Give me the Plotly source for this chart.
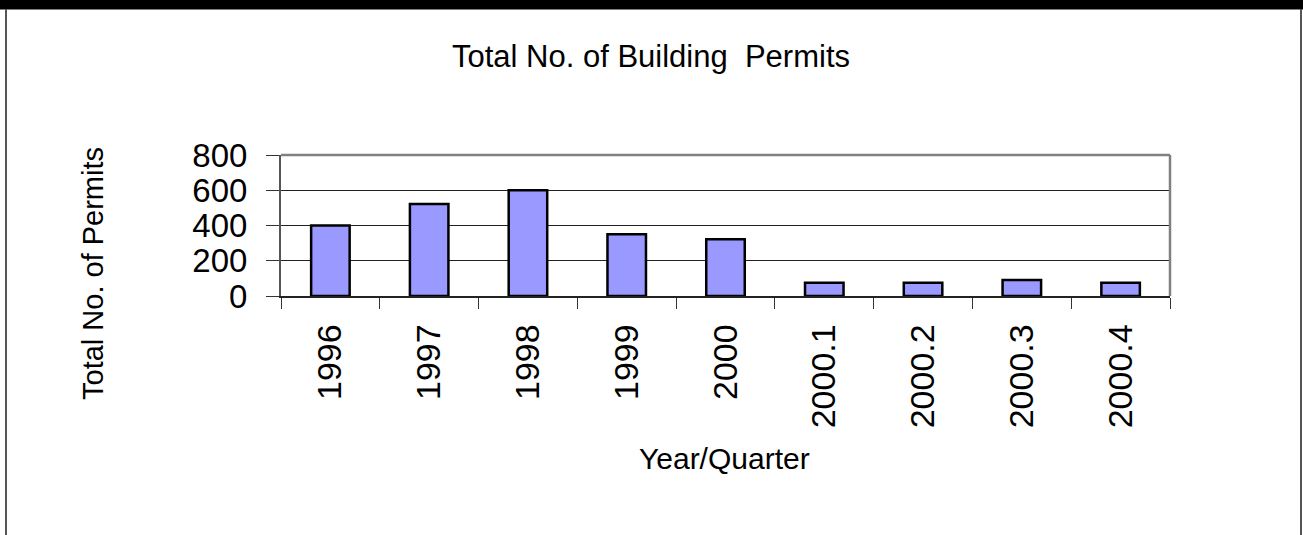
import plotly.graph_objects as go

categories = ["1996", "1997", "1998", "1999", "2000", "2000.1", "2000.2", "2000.3", "2000.4"]
permits = [400, 522, 600, 350, 322, 75, 75, 91, 75]
y_ticks = [0, 200, 400, 600, 800]

chart_title = "Total No. of Building  Permits"
x_title = "Year/Quarter"
y_title = "Total No. of Permits"

FONT = "Liberation Sans, Arial, sans-serif"
W, H = 1303, 535
L, R, T, B = 281, 1170, 155, 296  # plot area in pixels


def px(x):
    return (x - L) / (R - L)


def py(y):
    return (B - y) / (B - T)


fig = go.Figure(
    go.Bar(
        x=categories,
        y=permits,
        width=0.39,
        marker=dict(color="#9999FF", line=dict(color="black", width=2.5)),
    )
)

fig.update_layout(
    width=W,
    height=H,
    margin=dict(l=L, r=W - R, t=T, b=H - B, pad=0),
    paper_bgcolor="white",
    plot_bgcolor="white",
    showlegend=False,
    font=dict(family=FONT, color="black"),
)

fig.update_xaxes(
    type="category",
    tickson="boundaries",
    ticks="outside",
    ticklen=11,
    tickwidth=1,
    tickcolor="#333333",
    tickangle=-90,
    tickfont=dict(size=34, family=FONT, color="black"),
    ticklabelstandoff=13,
    showline=True,
    linecolor="#222222",
    linewidth=1.5,
    showgrid=False,
    mirror=False,
)

fig.update_yaxes(
    range=[0, 800],
    tickvals=y_ticks,
    ticks="outside",
    ticklen=13,
    tickwidth=1,
    tickcolor="#333333",
    tickfont=dict(size=33, family=FONT, color="black"),
    ticklabelstandoff=12,
    showline=True,
    linecolor="#555555",
    linewidth=2,
    showgrid=True,
    gridcolor="#222222",
    gridwidth=1,
    zeroline=False,
)

shapes = [
    # top and right plot border
    dict(type="line", xref="paper", yref="paper", x0=0, x1=1, y0=1, y1=1,
         line=dict(color="#808080", width=2.5)),
    dict(type="line", xref="paper", yref="paper", x0=1, x1=1, y0=0, y1=1,
         line=dict(color="#808080", width=2.5)),
    # black band at top of chart frame
    dict(type="rect", xref="paper", yref="paper", x0=px(-5), x1=px(W + 5), y0=py(-5), y1=py(9.5),
         fillcolor="black", line=dict(width=0)),
    # left & right frame borders
    dict(type="line", xref="paper", yref="paper", x0=px(6), x1=px(6), y0=py(9), y1=py(H + 5),
         line=dict(color="#555555", width=2)),
    dict(type="line", xref="paper", yref="paper", x0=px(1301), x1=px(1301), y0=py(9), y1=py(H + 5),
         line=dict(color="#555555", width=2)),
]
fig.update_layout(shapes=shapes)

annotations = [
    dict(text=chart_title, xref="paper", yref="paper", x=px(651), y=py(56),
         xanchor="center", yanchor="middle", showarrow=False,
         font=dict(size=31, family=FONT, color="black")),
    dict(text=x_title, xref="paper", yref="paper", x=px(724), y=py(458),
         xanchor="center", yanchor="middle", showarrow=False,
         font=dict(size=30, family=FONT, color="black")),
    dict(text=y_title, xref="paper", yref="paper", x=px(93), y=py(274),
         xanchor="center", yanchor="middle", showarrow=False, textangle=-90,
         font=dict(size=29, family=FONT, color="black")),
]
fig.update_layout(annotations=annotations)

fig.write_html(
    "out.html",
    config={"displayModeBar": False},
    post_script="document.body.style.margin='0';document.body.style.overflow='hidden';",
)
